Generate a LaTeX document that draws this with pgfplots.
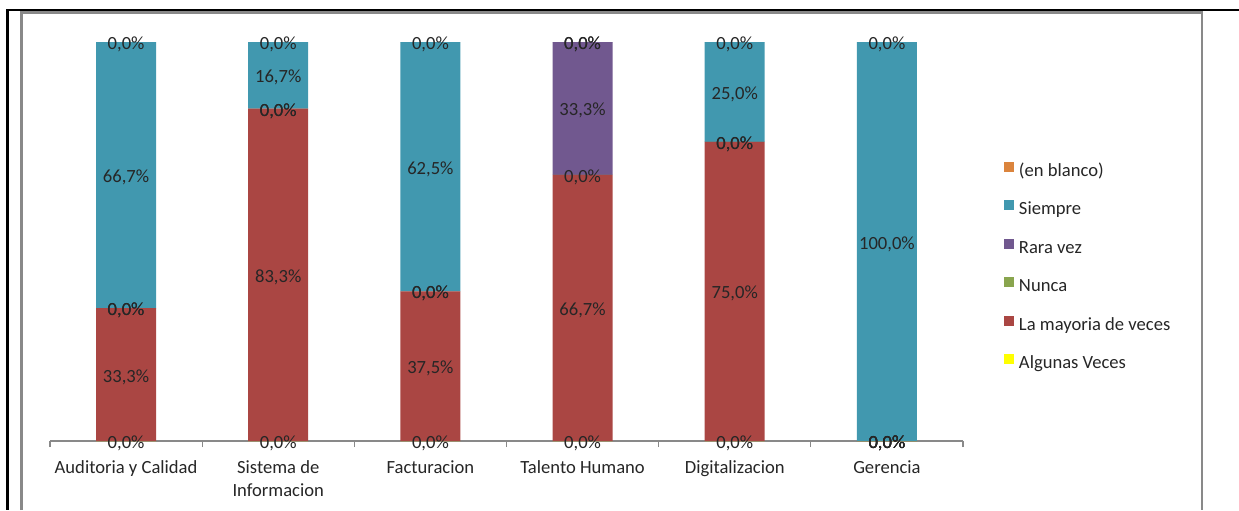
\documentclass[border=0pt]{standalone}
\usepackage{pgfplots}
\pgfplotsset{compat=1.18}
\usepackage{pgfplotstable}
\usepackage{fontspec}
\setmainfont{Carlito}

\definecolor{cAlg}{HTML}{FFFF00}
\definecolor{cMay}{HTML}{AA4643}
\definecolor{cNun}{HTML}{89A54E}
\definecolor{cRar}{HTML}{71588F}
\definecolor{cSie}{HTML}{4198AF}
\definecolor{cBla}{HTML}{DB843D}
\definecolor{frame}{HTML}{898989}

% percentage of answers per area
\pgfplotstableread{
x alg may  nun rar  sie   bla
0 0   33.3 0   0    66.7  0
1 0   83.3 0   0    16.7  0
2 0   37.5 0   0    62.5  0
3 0   66.7 0   33.3 0     0
4 0   75.0 0   0    25.0  0
5 0   0    0   0    100.0 0
}\datatable

\begin{document}
\begin{tikzpicture}[x=1pt,y=1pt]
\useasboundingbox (0,0) rectangle (619.5,-255);
% outer frames
\draw[line width=1.5pt,black] (3.5,-4.5) -- (3.5,-255);
\draw[line width=1pt,black] (3,-5) -- (619.5,-5);
\draw[line width=1.2pt,frame] (10.75,-255) -- (10.75,-6.25) -- (601,-6.25) -- (601,-255);

\begin{axis}[
  at={(25pt,-220.5pt)}, anchor=south west,
  scale only axis, width=456.5pt, height=199.5pt,
  xmin=-0.5, xmax=5.5, ymin=0, ymax=100,
  clip=false,
  ybar stacked, stacked ignores zero=false, bar width=30pt,
  axis x line*=bottom, axis y line=none,
  axis line style={frame, line width=0.6pt},
  xtick={0,...,5},
  xticklabels={Auditoria y Calidad,{Sistema de\\Informacion},Facturacion,Talento Humano,Digitalizacion,Gerencia},
  major tick length=0pt,
  minor xtick={-0.5,0.5,1.5,2.5,3.5,4.5,5.5},
  minor tick length=3pt, tick align=outside,
  minor tick style={frame, line width=0.6pt},
  xticklabel style={font=\fontsize{9.3}{11.5}\selectfont, align=center, anchor=north, inner sep=0pt, yshift=-9.5pt, text=black!85},
  point meta=explicit,
  nodes near coords={\pgfmathprintnumber[fixed,fixed zerofill,precision=1,use comma,assume math mode=true]{\pgfplotspointmeta}\%},
  every node near coord/.append style={font=\fontsize{9.3}{11}\selectfont, text=black!85, anchor=center, inner sep=0pt, yshift=-1.2pt},
  legend image code/.code={\fill[#1] (0pt,0pt) rectangle (5pt,5pt);},
  reverse legend,
  legend cell align=left,
  legend style={at={(axis description cs:1.0449,0.70)}, anchor=north west,
    draw=none, fill=none, inner sep=0pt, outer sep=0pt, row sep=10pt,
    font=\fontsize{9.3}{11}\selectfont,
    nodes={inner sep=0pt, text height=6.5pt, text depth=2pt, text=black!85},
    /tikz/every odd column/.append style={column sep=2.5pt}},
]
\addplot[fill=cAlg, draw=none] table[x=x, y=alg, meta=alg] {\datatable};
\addlegendentry{Algunas Veces}
\addplot[fill=cMay, draw=none] table[x=x, y=may, meta=may] {\datatable};
\addlegendentry{La mayoria de veces}
\addplot[fill=cNun, draw=none] table[x=x, y=nun, meta=nun] {\datatable};
\addlegendentry{Nunca}
\addplot[fill=cRar, draw=none] table[x=x, y=rar, meta=rar] {\datatable};
\addlegendentry{Rara vez}
\addplot[fill=cSie, draw=none] table[x=x, y=sie, meta=sie] {\datatable};
\addlegendentry{Siempre}
\addplot[fill=cBla, draw=none] table[x=x, y=bla, meta=bla] {\datatable};
\addlegendentry{(en blanco)}
\end{axis}
\end{tikzpicture}
\end{document}
